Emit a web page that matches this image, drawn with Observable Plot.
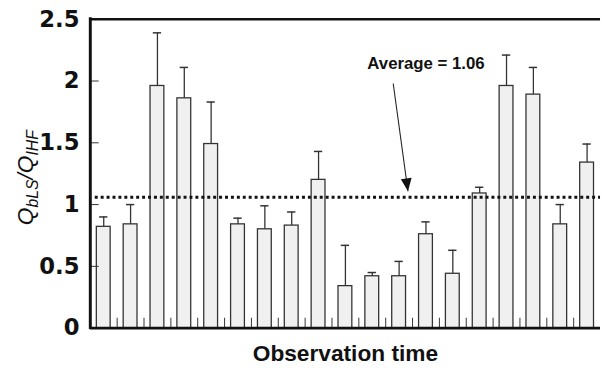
<!DOCTYPE html>
<html><head><meta charset="utf-8">
<script src="https://cdn.jsdelivr.net/npm/d3@7"></script>
<script src="https://cdn.jsdelivr.net/npm/@observablehq/plot@0.6"></script>
<style>
html,body{margin:0;padding:0;background:#fff;overflow:hidden;}
#chart{width:602px;height:371px;overflow:hidden;position:relative;}
</style></head><body><div id="chart"></div>
<script>
// Observation index (categories, unlabeled in the original)
const observation = [1,2,3,4,5,6,7,8,9,10,11,12,13,14,15,16,17,18,19];
// Q_bLS / Q_IHF ratio per observation
const ratio = [0.82, 0.84, 1.96, 1.86, 1.49, 0.84, 0.80, 0.83, 1.20, 0.34, 0.42, 0.42, 0.76, 0.44, 1.09, 1.96, 1.89, 0.84, 1.34];
// upper error (one-sided)
const errorUp = [0.08, 0.16, 0.43, 0.25, 0.34, 0.05, 0.19, 0.11, 0.23, 0.33, 0.03, 0.12, 0.10, 0.19, 0.05, 0.25, 0.22, 0.16, 0.15];
const average = 1.06;
const averageLabel = "Average = 1.06";
const yTicks = [0, 0.5, 1, 1.5, 2, 2.5];
const yTickLabels = ["0", "0.5", "1", "1.5", "2", "2.5"];
const xTitle = "Observation time";
// annotation (data units)
const labelPos = {x: 12.5, y: 2.14};
const arrowPos = {x1: 11.28, y1: 1.98, x2: 11.83, y2: 1.108};

const data = observation.map((o, i) => ({i, x1: i, x2: i + 1, v: ratio[i], e: errorUp[i]}));
const bounds = observation.slice(1).map((o, i) => i + 1);

const FONT = "'Liberation Sans', Arial, Helvetica, sans-serif";
const TICKFONT = "'DejaVu Sans', 'Liberation Sans', Arial, sans-serif";
const ink = "#111";
const arrowHead = {draw(ctx) { ctx.moveTo(0, 0); ctx.lineTo(-5.5, 13); ctx.lineTo(5.5, 13); ctx.closePath(); }};

const chart = Plot.plot({
  width: 610, height: 371,
  marginLeft: 91, marginRight: 2, marginTop: 19, marginBottom: 39,
  style: {fontFamily: FONT, color: ink, background: "#fff"},
  x: {domain: [0, 19], label: null},
  y: {domain: [0, 2.5], label: null},
  marks: [
    Plot.rectY(data, {x1: "x1", x2: "x2", y: "v", fill: "#f0f0f0", stroke: "#333", strokeWidth: 1.3, insetLeft: 6.6, insetRight: 6.6}),
    Plot.ruleX(data, {x: d => d.i + 0.5, y1: "v", y2: d => d.v + d.e, stroke: "#333", strokeWidth: 1.3}),
    Plot.ruleY(data, {y: d => d.v + d.e, x1: "x1", x2: "x2", insetLeft: 9.4, insetRight: 9.4, stroke: "#333", strokeWidth: 1.5}),
    Plot.ruleY([average], {stroke: ink, strokeWidth: 3, strokeDasharray: "3,3", insetLeft: 5}),
    Plot.axisX(bounds, {tickSize: -10, fill: "none", stroke: "#333", label: null}),
    Plot.axisY([0.5, 1, 1.5, 2], {tickSize: -9, fill: "none", stroke: "#333", label: null}),
    Plot.axisY(yTicks, {tickSize: 0, tickPadding: 11, tickFormat: d => yTickLabels[yTicks.indexOf(d)], fontFamily: TICKFONT, fontSize: 23, fontWeight: "bold", fill: ink, label: null}),
    Plot.ruleX([0], {stroke: ink, strokeWidth: 3, insetTop: -1.5, insetBottom: -1.5}),
    Plot.ruleY([0], {stroke: ink, strokeWidth: 3}),
    Plot.ruleY([2.5], {stroke: ink, strokeWidth: 2.5}),
    Plot.link([arrowPos], {x1: "x1", y1: "y1", x2: "x2", y2: "y2", stroke: "#222", strokeWidth: 1.1}),
    Plot.dot([arrowPos], {x: "x2", y: "y2", symbol: arrowHead, r: 5, fill: ink, stroke: null, rotate: 172.2}),
    Plot.text([averageLabel], {x: labelPos.x, y: labelPos.y, text: d => d, fontSize: 17, fontWeight: "bold", fill: ink}),
    Plot.text([xTitle], {frameAnchor: "bottom", lineAnchor: "middle", dy: 26, text: d => d, fontSize: 23, fontWeight: "bold", fill: ink})
  ]
});
document.getElementById("chart").appendChild(chart);

// y-axis title with subscripts
const svg = d3.select(chart.tagName.toLowerCase() === "svg" ? chart : chart.querySelector("svg"));
const t = svg.append("text")
  .attr("transform", "translate(33,180) rotate(-90)")
  .attr("text-anchor", "middle")
  .attr("fill", ink)
  .style("font-family", FONT)
  .style("font-style", "italic");
t.append("tspan").attr("font-size", 23).text("Q");
t.append("tspan").attr("font-size", 16).attr("dy", 5).text("bLS");
t.append("tspan").attr("font-size", 23).attr("dy", -5).text("/Q");
t.append("tspan").attr("font-size", 16).attr("dy", 5).text("IHF");
</script>
</body></html>
